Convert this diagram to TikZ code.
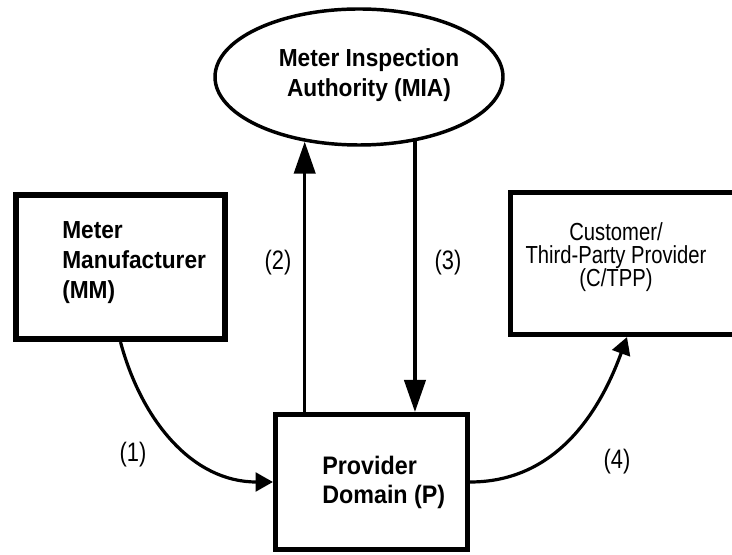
\documentclass[tikz,border=0pt]{standalone}
\usepackage{fontspec}
\setmainfont{Liberation Sans}
\newfontfamily\wideface{Liberation Sans}[FakeStretch=0.92]
\newfontfamily\narrowface{Liberation Sans}[FakeStretch=0.82]
\usetikzlibrary{shapes.geometric,arrows.meta}
\begin{document}
\begin{tikzpicture}[x=0.75pt,y=0.75pt,
  box/.style={draw,line width=3.8pt,inner sep=0pt},
  txt/.style={inner sep=0pt,font=\wideface\bfseries\fontsize{18.5}{22.5}\selectfont},
  lbl/.style={inner sep=0pt,font=\narrowface\fontsize{20}{22}\selectfont},
  conn/.style={line width=2.4pt},
  bigtip/.style={-{Triangle[length=24pt,width=16pt]}},
  smalltip/.style={-{Triangle[length=13pt,width=14pt]}}]
\useasboundingbox (0,0) rectangle (732,-555);
\node[draw,ellipse,line width=2.6pt,minimum width=216pt,minimum height=102pt,inner sep=0pt](MIA) at (359,-77){};
\node[txt,align=center](MIAtext) at (369,-75){Meter Inspection\\Authority (MIA)};
\node[box,line width=4.5pt,minimum width=156.75pt,minimum height=108pt](MM) at (120.5,-267){};
\node[txt,anchor=west,align=left](MMtext) at (62,-263){Meter\\Manufacturer\\(MM)};
\node[box,minimum width=174.75pt,minimum height=106.5pt](CTPP) at (627,-263.5){};
\node[lbl,align=center,font=\narrowface\fontsize{18.5}{17.5}\selectfont](CTPPtext) at (616,-257){Customer/\\Third-Party Provider\\(C/TPP)};
\node[box,minimum width=144pt,minimum height=101.25pt](P) at (371.5,-482){};
\node[txt,anchor=west,align=left,font=\wideface\bfseries\fontsize{19}{21.75}\selectfont](Ptext) at (322,-482.5){Provider\\Domain (P)};
\draw[conn,smalltip](MM.south)to[out=-75,in=180](P.west);
\draw[conn,bigtip](P.north -| MIA.230.6)--(MIA.230.6);
\draw[conn,bigtip](MIA.-49.4)--(P.north -| MIA.-49.4);
\draw[conn,smalltip](P.east)to[out=0,in=-110](CTPP.south);
\node[lbl](l1) at (133,-455){(1)};
\node[lbl](l2) at (278,-263){(2)};
\node[lbl](l3) at (448,-263){(3)};
\node[lbl](l4) at (617,-462){(4)};
\end{tikzpicture}
\end{document}
